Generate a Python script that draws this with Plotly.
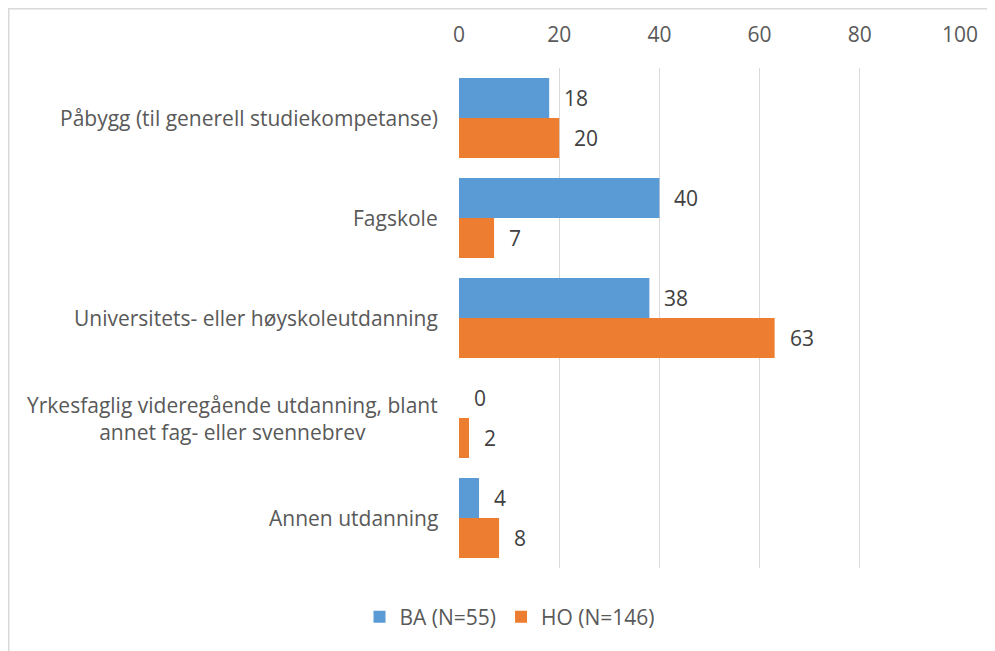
import plotly.graph_objects as go

categories = [
    "Påbygg (til generell studiekompetanse)",
    "Fagskole",
    "Universitets- eller høyskoleutdanning",
    "Yrkesfaglig videregående utdanning, blant<br>annet fag- eller svennebrev",
    "Annen utdanning",
]
ba_values = [18, 40, 38, 0, 4]
ho_values = [20, 7, 63, 2, 8]
series_names = ["BA (N=55)", "HO (N=146)"]
tick_vals = [0, 20, 40, 60, 80, 100]

BLUE = "#5B9BD5"
ORANGE = "#ED7D31"
TXT = "#595959"
FONT = "Open Sans"
FS = 21

# page has an 8px body margin, so the figure is offset by 8px
W, H = 987, 643
L, R, T, B = 451, 35, 60, 83
pw, ph = W - L - R, H - T - B

idx = list(range(len(categories)))

fig = go.Figure()
fig.add_trace(go.Bar(y=idx, x=ba_values, orientation="h", name=series_names[0],
                     marker=dict(color=BLUE, line=dict(width=0))))
fig.add_trace(go.Bar(y=idx, x=ho_values, orientation="h", name=series_names[1],
                     marker=dict(color=ORANGE, line=dict(width=0))))

ann = []
for i, c in enumerate(categories):
    ann.append(dict(x=0, xref="paper", y=i, yref="y", text=c, showarrow=False,
                    xanchor="right", yanchor="middle", align="center", xshift=-19,
                    font=dict(family=FONT, size=FS, color=TXT)))
for vals, ys in ((ba_values, 20), (ho_values, -20)):
    for i, v in enumerate(vals):
        ann.append(dict(x=v, xref="x", y=i, yref="y", text=str(v), showarrow=False,
                        xanchor="left", yanchor="middle", xshift=13, yshift=ys,
                        font=dict(family=FONT, size=FS, color="#404040")))

fig.update_layout(
    width=W, height=H,
    margin=dict(l=L, r=R, t=T, b=B, pad=0),
    paper_bgcolor="white", plot_bgcolor="white",
    barmode="group", bargap=0.2, bargroupgap=0,
    font=dict(family=FONT, size=FS, color=TXT),
    xaxis=dict(side="top", range=[0, 100], tickvals=tick_vals, showgrid=True,
               gridcolor="#D9D9D9", gridwidth=1.3, zeroline=False, showline=False,
               ticks="", ticklabelstandoff=21,
               tickfont=dict(family=FONT, size=FS, color=TXT), fixedrange=True),
    yaxis=dict(range=[len(categories) - 0.5, -0.5], showticklabels=False,
               showgrid=False, zeroline=False, showline=False, ticks=""),
    legend=dict(orientation="h", xref="container", yref="container",
                x=502 / W, y=1 - 609 / H, xanchor="center", yanchor="middle",
                font=dict(family=FONT, size=FS, color=TXT), itemwidth=30,
                traceorder="normal"),
    annotations=ann,
    shapes=[dict(type="rect", xref="paper", yref="paper",
                 x0=(0.75 - L) / pw, x1=(1010 - L) / pw,
                 y0=(H - B - 670) / ph, y1=(H - B - 0.75) / ph,
                 line=dict(color="#D9D9D9", width=1.5), fillcolor="rgba(0,0,0,0)",
                 layer="below")],
)

fig.write_html("out.html")
